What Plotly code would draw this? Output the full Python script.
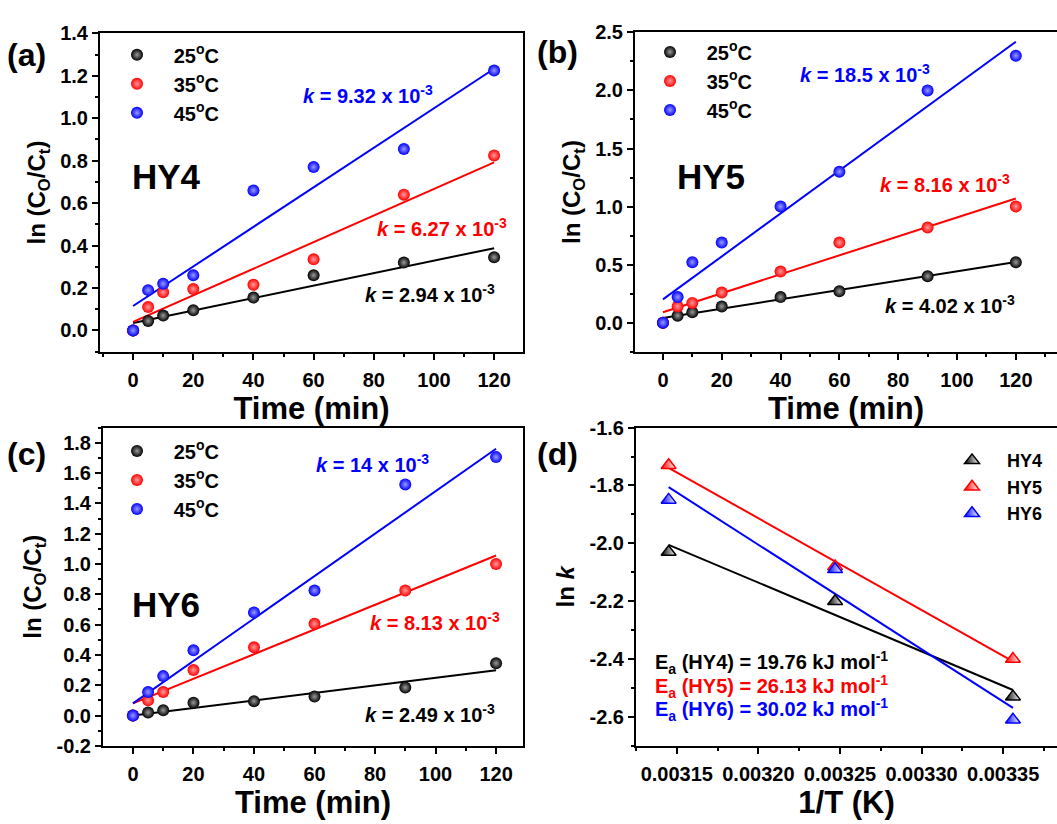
import numpy as np
import plotly.graph_objects as go

# ---------------- data ----------------
time_min = [0, 5, 10, 20, 40, 60, 90, 120]
temps = ["25", "35", "45"]

hy4_25 = [0, 0.045, 0.07, 0.095, 0.155, 0.26, 0.32, 0.345]
hy4_35 = [0, 0.11, 0.18, 0.195, 0.215, 0.335, 0.64, 0.825]
hy4_45 = [0, 0.19, 0.22, 0.26, 0.66, 0.77, 0.855, 1.225]

hy5_25 = [0, 0.06, 0.09, 0.14, 0.22, 0.27, 0.40, 0.52]
hy5_35 = [0, 0.14, 0.17, 0.26, 0.44, 0.69, 0.82, 1.0]
hy5_45 = [0, 0.22, 0.52, 0.69, 1.0, 1.30, 2.0, 2.30]

hy6_25 = [0, 0.02, 0.035, 0.085, 0.095, 0.125, 0.185, 0.345]
hy6_35 = [0, 0.10, 0.155, 0.30, 0.45, 0.605, 0.825, 1.0]
hy6_45 = [0, 0.155, 0.26, 0.43, 0.68, 0.825, 1.525, 1.705]

# rate constants (slopes, 10^-3 min^-1) and fit intercepts
k_hy4 = [2.94, 6.27, 9.32]
b_hy4 = [0.035, 0.04, 0.115]
k_hy5 = [4.02, 8.16, 18.5]
b_hy5 = [0.04, 0.09, 0.20]
k_hy6 = [2.49, 8.13, 14]
b_hy6 = [0.0, 0.08, 0.08]

# Arrhenius
inv_T = [0.003145, 0.003247, 0.003356]
lnk_hy4 = [-2.03, -2.20, -2.53]
lnk_hy5 = [-1.73, -2.08, -2.40]
lnk_hy6 = [-1.85, -2.09, -2.61]
Ea = [19.76, 26.13, 30.02]

# ---------------- styles ----------------
FONT = "Arial, Liberation Sans, sans-serif"
COL = ["#000000", "#ff0000", "#0000ff"]
CENTER = ["#9a9a9a", "#ff9a9a", "#9a9aff"]
W, H = 1057, 824
SP = "\u00a0\u00a0\u00a0"


def px(x):
    return x / W


def py(y):
    return 1 - y / H


fig = go.Figure()

panels = [
    ("", [hy4_25, hy4_35, hy4_45], k_hy4, b_hy4, "legend"),
    ("2", [hy5_25, hy5_35, hy5_45], k_hy5, b_hy5, "legend2"),
    ("3", [hy6_25, hy6_35, hy6_45], k_hy6, b_hy6, "legend3"),
]

for suf, series, ks, bs, leg in panels:
    for i, ys in enumerate(series):
        t0, t1 = time_min[0], time_min[-1]
        fig.add_trace(go.Scatter(
            x=[t0, t1], y=[bs[i] + ks[i] * 1e-3 * t0, bs[i] + ks[i] * 1e-3 * t1],
            mode="lines", line=dict(color=COL[i], width=2),
            showlegend=False, xaxis="x" + suf, yaxis="y" + suf, hoverinfo="skip"))
    for i, ys in enumerate(series):
        fig.add_trace(go.Scatter(
            x=time_min, y=ys, mode="markers",
            name=f"<b>{SP}{temps[i]}<sup>o</sup>C</b>",
            marker=dict(size=12, color=COL[i],
                        gradient=dict(type="radial", color=CENTER[i]),
                        line=dict(width=0)),
            legend=leg, xaxis="x" + suf, yaxis="y" + suf))

# Arrhenius panel
names_d = ["HY4", "HY5", "HY6"]
for i, lk in enumerate([lnk_hy4, lnk_hy5, lnk_hy6]):
    m, c = np.polyfit(inv_T, lk, 1)
    xs = np.array([inv_T[0], inv_T[-1]])
    fig.add_trace(go.Scatter(
        x=xs, y=m * xs + c, mode="lines", line=dict(color=COL[i], width=2),
        showlegend=False, xaxis="x4", yaxis="y4", hoverinfo="skip"))
for i, lk in enumerate([lnk_hy4, lnk_hy5, lnk_hy6]):
    fig.add_trace(go.Scatter(
        x=inv_T, y=lk, mode="markers", name=f"<b>{SP}{names_d[i]}</b>",
        marker=dict(symbol="triangle-up", size=13, color=COL[i],
                    gradient=dict(type="horizontal", color="#ffffff"),
                    line=dict(color=COL[i], width=1.5)),
        legend="legend4", xaxis="x4", yaxis="y4"))


def fmt_ticks(vals, nd):
    return [f"<b>{v:.{nd}f}</b>" for v in vals]


axline = dict(showline=True, linecolor="black", linewidth=2, ticks="outside",
              ticklen=6, tickwidth=2, tickcolor="black", showgrid=False,
              zeroline=False, tickfont=dict(family=FONT, size=20, color="black"))
minor = dict(ticklen=3, tickwidth=1.5, tickcolor="black", showgrid=False)

xtitle_font = dict(family=FONT, size=31, color="black")
ytitle_font = dict(family=FONT, size=24, color="black")
ytitle = "<b>ln (C<sub>O</sub>/C<sub>t</sub>)</b>"
xtitle = "<b>Time (min)</b>"

xt = [0, 20, 40, 60, 80, 100, 120]
xt_txt = fmt_ticks(xt, 0)

# (a)
ya_t = [round(0.2 * i, 1) for i in range(8)]
fig.update_layout(
    xaxis=dict(**axline, domain=[px(100), px(523)], range=[-11, 129.6], anchor="y",
               tickvals=xt, ticktext=xt_txt, minor=dict(**minor, dtick=10), mirror=True,
               ticklabelstandoff=3,
               title=dict(text=xtitle, font=xtitle_font, standoff=0)),
    yaxis=dict(**axline, domain=[py(350), py(23)], range=[-0.1, 1.4], anchor="x",
               tickvals=ya_t, ticktext=fmt_ticks(ya_t, 1), minor=dict(**minor, dtick=0.1),
               mirror=True, title=dict(text=ytitle, font=ytitle_font, standoff=8)),
)
# (b)
yb_t = [0, 0.5, 1.0, 1.5, 2.0, 2.5]
fig.update_layout(
    xaxis2=dict(**axline, domain=[px(635), 1.0], range=[-9.5, 134], anchor="y2",
                tickvals=xt, ticktext=xt_txt, minor=dict(**minor, dtick=10), mirror=True,
                ticklabelstandoff=3,
                title=dict(text=xtitle, font=xtitle_font, standoff=0)),
    yaxis2=dict(**axline, domain=[py(350), py(22)], range=[-0.25, 2.5], anchor="x2",
                tickvals=yb_t, ticktext=fmt_ticks(yb_t, 1), minor=dict(**minor, dtick=0.25),
                title=dict(text=ytitle, font=ytitle_font, standoff=8)),
)
# (c)
yc_t = [round(-0.2 + 0.2 * i, 1) for i in range(11)]
fig.update_layout(
    xaxis3=dict(**axline, domain=[px(103), px(523)], range=[-9.9, 128.9], anchor="y3",
                tickvals=xt, ticktext=xt_txt, minor=dict(**minor, dtick=10), mirror=True,
                ticklabelstandoff=3,
                title=dict(text=xtitle, font=xtitle_font, standoff=0)),
    yaxis3=dict(**axline, domain=[py(755), py(428)], range=[-0.2, 1.9], anchor="x3",
                tickvals=yc_t, ticktext=fmt_ticks(yc_t, 1), minor=dict(**minor, dtick=0.1),
                mirror=True, title=dict(text=ytitle, font=ytitle_font, standoff=8)),
)
# (d)
xd_t = [0.00315, 0.00320, 0.00325, 0.00330, 0.00335]
yd_t = [-2.6, -2.4, -2.2, -2.0, -1.8, -1.6]
fig.update_layout(
    xaxis4=dict(**axline, domain=[px(636), 1.0], range=[0.003125, 0.003383], anchor="y4",
                tickvals=xd_t, ticktext=fmt_ticks(xd_t, 5),
                minor=dict(**minor, dtick=0.000025, tick0=0.003125), mirror=True,
                ticklabelstandoff=3,
                title=dict(text="<b>1/T (K)</b>", font=xtitle_font, standoff=0)),
    yaxis4=dict(**axline, domain=[py(755), py(428)], range=[-2.7, -1.6], anchor="x4",
                tickvals=yd_t, ticktext=fmt_ticks(yd_t, 1), minor=dict(**minor, dtick=0.1, tick0=-2.7),
                title=dict(text="<b>ln <i>k</i></b>", font=ytitle_font, standoff=8)),
)

leg_common = dict(bgcolor="rgba(0,0,0,0)", borderwidth=0, xanchor="left", yanchor="top",
                  font=dict(family=FONT, size=20, color="black"), itemwidth=30,
                  tracegroupgap=0)
fig.update_layout(
    legend=dict(**leg_common, x=px(117), y=py(25)),
    legend2=dict(**leg_common, x=px(650), y=py(22)),
    legend3=dict(**leg_common, x=px(117), y=py(432)),
    legend4=dict(**{**leg_common, "font": dict(family=FONT, size=18, color="black")},
                 x=px(952), y=py(443)),
)

ann = []


def add_text(x, y, text, color="black", size=20, xanchor="left"):
    ann.append(dict(x=px(x), y=py(y), xref="paper", yref="paper", text=text,
                    showarrow=False, xanchor=xanchor, yanchor="middle",
                    font=dict(family=FONT, size=size, color=color)))


for lbl, x, y in [("(a)", 5, 45), ("(b)", 535, 42), ("(c)", 5, 455), ("(d)", 535, 455)]:
    add_text(x, y, f"<b>{lbl}</b>", size=32)

for lbl, x, y in [("HY4", 166, 170), ("HY5", 711, 170), ("HY6", 166, 610)]:
    add_text(x, y, f"<b>{lbl}</b>", size=35, xanchor="center")


def ktxt(k):
    return f"<b><i>k</i> = {k} x 10<sup>-3</sup></b>"


k_pos = [
    (k_hy4, [(363, 290), (375, 222), (301, 86)]),
    (k_hy5, [(883, 302), (878, 177), (798, 64)]),
    (k_hy6, [(363, 722), (368, 627), (314, 465)]),
]
for ks, poss in k_pos:
    for i, (x, y) in enumerate(poss):
        add_text(x, y, ktxt(ks[i]), color=COL[i], size=20)

for i, y in enumerate([669, 694, 718]):
    add_text(653, y, f"<b>E<sub>a</sub> ({names_d[i]}) = {Ea[i]:.2f} kJ mol<sup>-1</sup></b>",
             color=COL[i], size=20)

fig.update_layout(
    annotations=ann,
    width=W, height=H, margin=dict(l=0, r=0, t=0, b=0),
    paper_bgcolor="white", plot_bgcolor="white",
    font=dict(family=FONT, color="black"),
)

fig.write_html("out.html", config={"displayModeBar": False},
               post_script="document.body.style.margin='0';document.body.style.overflow='hidden';")
